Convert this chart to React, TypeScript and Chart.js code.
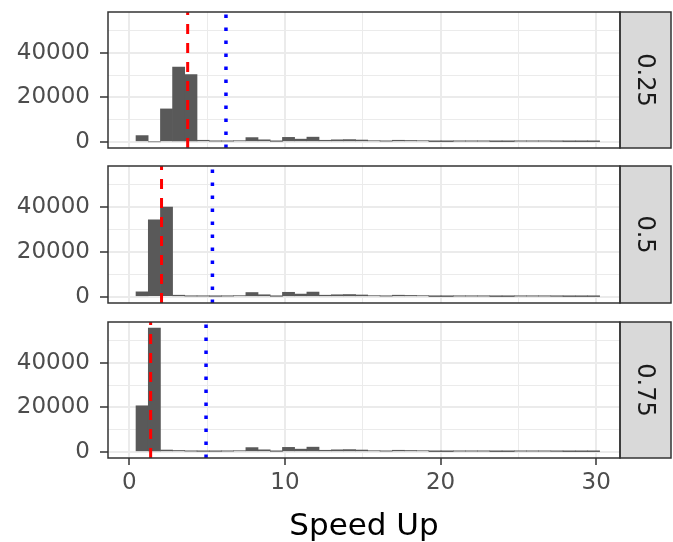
import React, { useEffect, useRef } from "react";
import { Chart, registerables } from "chart.js";

Chart.register(...registerables);

// ---------- data ----------
const facetLabels = ["0.25", "0.5", "0.75"];

const binCenters = [
  0.82, 1.61, 2.39, 3.17, 3.96, 4.74, 5.53, 6.31, 7.09, 7.88,
  8.66, 9.45, 10.23, 11.01, 11.8, 12.58, 13.37, 14.15, 14.93, 15.72,
  16.5, 17.29, 18.07, 18.85, 19.64, 20.42, 21.21, 21.99, 22.77, 23.56,
  24.34, 25.13, 25.91, 26.69, 27.48, 28.26, 29.05, 29.83,
];

const counts025 = [
  2800, 0, 14800, 33600, 30200, 700, 300, 300, 500, 1900,
  900, 200, 2000, 1200, 2100, 700, 900, 1000, 800, 500,
  300, 700, 600, 500, 100, 100, 300, 300, 300, 100,
  100, 300, 300, 300, 200, 100, 100, 100,
];

const counts05 = [
  2200, 34400, 40000, 700, 300, 300, 200, 300, 500, 1900,
  900, 200, 2000, 1200, 2100, 700, 900, 1000, 800, 500,
  300, 700, 600, 500, 100, 100, 300, 300, 300, 100,
  100, 300, 300, 300, 200, 100, 100, 100,
];

const counts075 = [
  20700, 55600, 800, 600, 300, 200, 200, 300, 500, 1900,
  900, 200, 2000, 1200, 2100, 700, 900, 1000, 800, 500,
  300, 700, 600, 500, 100, 100, 300, 300, 300, 100,
  100, 300, 300, 300, 200, 100, 100, 100,
];

const medianLines = [3.75, 2.07, 1.37];
const meanLines = [6.21, 5.34, 4.93];

const xTicks = [0, 5, 10, 15, 20, 25, 30];
const xMajorTicks = [0, 10, 20, 30];
const yTicks = [0, 10000, 20000, 30000, 40000, 50000];
const yMajorTicks = [0, 20000, 40000];
const xLimits = [-1.37, 31.53];
const yLimits = [-2780, 58380];
const xTitle = "Speed Up";

const allCounts = [counts025, counts05, counts075];

// ---------- styling ----------
const FONT = '"DejaVu Sans", "Liberation Sans", sans-serif';
const GRID = "#EBEBEB";
const DARK = "#333333";

const panelPlugin = {
  id: "panelDecor",
  afterDatasetsDraw(chart: any, _args: any, opts: any) {
    const { ctx, chartArea: a } = chart;
    const sw = 51;
    ctx.save();
    ctx.fillStyle = "#D9D9D9";
    ctx.fillRect(a.right, a.top, sw, a.bottom - a.top);
    ctx.strokeStyle = DARK;
    ctx.lineWidth = 1.5;
    ctx.strokeRect(a.right, a.top, sw, a.bottom - a.top);
    ctx.strokeRect(a.left, a.top, a.right - a.left, a.bottom - a.top);
    ctx.translate(a.right + sw / 2, (a.top + a.bottom) / 2);
    ctx.rotate(Math.PI / 2);
    ctx.fillStyle = "#1A1A1A";
    ctx.font = `24px ${FONT}`;
    ctx.textAlign = "center";
    ctx.textBaseline = "middle";
    ctx.fillText(opts.label, 0, 1);
    ctx.restore();
  },
};

type PanelProps = {
  idx: number;
  top: number;
  height: number;
  padTop: number;
  padBottom: number;
  showX: boolean;
};

function zeroPad(s: any) {
  s.paddingTop = 0;
  s.paddingBottom = 0;
  s.paddingLeft = 0;
  s.paddingRight = 0;
}

function Panel({ idx, top, height, padTop, padBottom, showX }: PanelProps) {
  const ref = useRef<HTMLCanvasElement | null>(null);

  useEffect(() => {
    if (!ref.current) return;
    const counts = allCounts[idx];
    const chart = new Chart(ref.current, {
      type: "bar",
      data: {
        datasets: [
          {
            type: "line",
            data: [
              { x: medianLines[idx], y: yLimits[0] },
              { x: medianLines[idx], y: yLimits[1] },
            ],
            borderColor: "#FF0000",
            borderWidth: 3,
            borderDash: [10, 9],
            pointRadius: 0,
            fill: false,
            order: 1,
          } as any,
          {
            type: "line",
            data: [
              { x: meanLines[idx], y: yLimits[0] },
              { x: meanLines[idx], y: yLimits[1] },
            ],
            borderColor: "#0000FF",
            borderWidth: 3.5,
            borderDash: [3.5, 9.5],
            pointRadius: 0,
            fill: false,
            order: 2,
          } as any,
          {
            type: "bar",
            data: binCenters.map((x, i) => ({ x, y: counts[i] })),
            backgroundColor: "#595959",
            borderWidth: 0,
            barPercentage: 1,
            categoryPercentage: 1,
            order: 3,
          } as any,
        ],
      },
      options: {
        responsive: false,
        maintainAspectRatio: false,
        animation: false,
        devicePixelRatio: 1,
        layout: { padding: { top: padTop, bottom: padBottom, left: 0, right: 53 } },
        plugins: {
          legend: { display: false },
          tooltip: { enabled: false },
          panelDecor: { label: facetLabels[idx] },
        } as any,
        scales: {
          x: {
            type: "linear",
            min: xLimits[0],
            max: xLimits[1],
            offset: false,
            afterBuildTicks: (s: any) => {
              s.ticks = xTicks.map((v) => ({ value: v }));
            },
            afterFit: (s: any) => {
              s.height = showX ? 84 : 0;
              zeroPad(s);
            },
            ticks: {
              display: showX,
              autoSkip: false,
              maxRotation: 0,
              padding: 4,
              color: "#4D4D4D",
              font: { family: FONT, size: 23 },
              callback: (v: any) => (xMajorTicks.includes(v) ? String(v) : ""),
            },
            grid: {
              offset: false,
              drawTicks: showX,
              tickLength: 7,
              tickWidth: 1.5,
              tickColor: (c: any) =>
                c.tick && xMajorTicks.includes(c.tick.value) ? DARK : "rgba(0,0,0,0)",
              color: GRID,
              lineWidth: (c: any) =>
                c.tick && xMajorTicks.includes(c.tick.value) ? 2 : 1,
            },
            border: { display: false },
            title: {
              display: showX,
              text: xTitle,
              color: "#000000",
              font: { family: FONT, size: 31, lineHeight: 1.0 },
              padding: { top: 0, bottom: 0 },
            },
          },
          y: {
            type: "linear",
            min: yLimits[0],
            max: yLimits[1],
            afterBuildTicks: (s: any) => {
              s.ticks = yTicks.map((v) => ({ value: v }));
            },
            afterFit: (s: any) => {
              s.width = 108;
              zeroPad(s);
            },
            ticks: {
              autoSkip: false,
              padding: 10,
              color: "#4D4D4D",
              font: { family: FONT, size: 23 },
              callback: (v: any) => (yMajorTicks.includes(v) ? String(v) : ""),
            },
            grid: {
              drawTicks: true,
              tickLength: 8,
              tickWidth: 1.5,
              tickColor: (c: any) =>
                c.tick && yMajorTicks.includes(c.tick.value) ? DARK : "rgba(0,0,0,0)",
              color: GRID,
              lineWidth: (c: any) =>
                c.tick && yMajorTicks.includes(c.tick.value) ? 2 : 1,
            },
            border: { display: false },
          },
        },
      } as any,
      plugins: [panelPlugin as any],
    });
    return () => chart.destroy();
  }, [idx, showX, padTop, padBottom]);

  return (
    <canvas
      ref={ref}
      width={673}
      height={height}
      style={{ position: "absolute", left: 0, top, display: "block" }}
    />
  );
}

export default function App() {
  return (
    <div
      style={{
        position: "absolute",
        left: 0,
        top: 0,
        width: 673,
        height: 542,
        background: "#FFFFFF",
        overflow: "hidden",
      }}
    >
      <Panel idx={0} top={0} height={160} padTop={12} padBottom={12} showX={false} />
      <Panel idx={1} top={160} height={155} padTop={6} padBottom={12} showX={false} />
      <Panel idx={2} top={315} height={227} padTop={7} padBottom={0} showX={true} />
    </div>
  );
}
